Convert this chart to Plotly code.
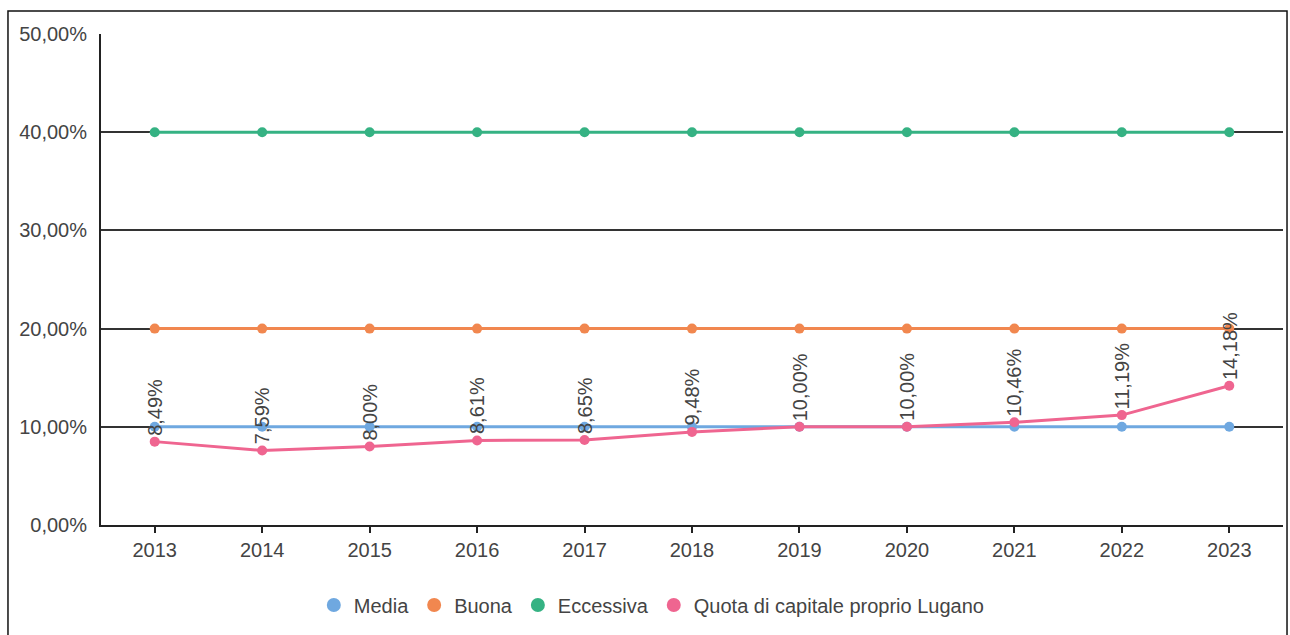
import plotly.graph_objects as go

# data
anni = ['2013', '2014', '2015', '2016', '2017', '2018', '2019', '2020', '2021', '2022', '2023']
media = [10, 10, 10, 10, 10, 10, 10, 10, 10, 10, 10]
buona = [20, 20, 20, 20, 20, 20, 20, 20, 20, 20, 20]
eccessiva = [40, 40, 40, 40, 40, 40, 40, 40, 40, 40, 40]
quota_lugano = [8.49, 7.59, 8.00, 8.61, 8.65, 9.48, 10.00, 10.00, 10.46, 11.19, 14.18]

serie = [
    ('Media', media, '#6fa8e0'),
    ('Buona', buona, '#f1874f'),
    ('Eccessiva', eccessiva, '#35b283'),
    ('Quota di capitale proprio Lugano', quota_lugano, '#ef6590'),
]

FONT = 'Liberation Sans, Arial, sans-serif'
TXT = '#444444'

fig = go.Figure()

for nome, vals, col in serie:
    fig.add_trace(go.Scatter(
        x=anni, y=vals, name=nome, mode='lines+markers',
        line=dict(color=col, width=3),
        marker=dict(color=col, size=10),
        showlegend=False,
    ))

# legend entries: circles only
for nome, vals, col in serie:
    fig.add_trace(go.Scatter(
        x=[None], y=[None], name=nome, mode='markers',
        marker=dict(color=col, size=14),
    ))

# vertical data labels on the Lugano series (x = category index)
for i, v in enumerate(quota_lugano):
    fig.add_annotation(
        x=i, y=v, xref='x', yref='y',
        text='{:.2f}%'.format(v).replace('.', ','),
        textangle=-90, showarrow=False,
        xanchor='center', yanchor='bottom', yshift=4,
        font=dict(family=FONT, size=20, color=TXT),
    )

# outer frame of the picture
fig.add_shape(type='rect', xref='paper', yref='paper',
              x0=-0.0787, x1=1.0034, y0=-0.26, y1=1.0468,
              line=dict(color='#111111', width=1.5), layer='above')

fig.update_xaxes(
    type='category', range=[-0.5, 10.5],
    showline=True, linecolor='#222222', linewidth=2,
    ticks='outside', ticklen=6, tickcolor='#222222', tickwidth=1.5,
    showgrid=False,
    tickfont=dict(family=FONT, size=20, color=TXT),
)
fig.update_yaxes(
    range=[0, 50], dtick=10, tickformat='.2f', ticksuffix='%',
    showline=True, linecolor='#222222', linewidth=2,
    showgrid=True, gridcolor='#333333', gridwidth=1.5,
    zeroline=False, ticks='', ticklabelstandoff=8,
    tickfont=dict(family=FONT, size=20, color=TXT),
)

fig.update_layout(
    width=1290, height=635,
    margin=dict(l=101, r=7, t=34, b=110),
    plot_bgcolor='white', paper_bgcolor='white',
    separators=',.',
    font=dict(family=FONT, size=20, color=TXT),
    legend=dict(orientation='h', x=0.466, xanchor='center', y=-0.163, yanchor='middle',
                font=dict(family=FONT, size=20, color=TXT), itemwidth=30),
)

# drop the default 8px body margin so the figure fills the window exactly
fig.write_html('out.html', config={'displayModeBar': False},
               post_script="document.body.style.margin='0';")
